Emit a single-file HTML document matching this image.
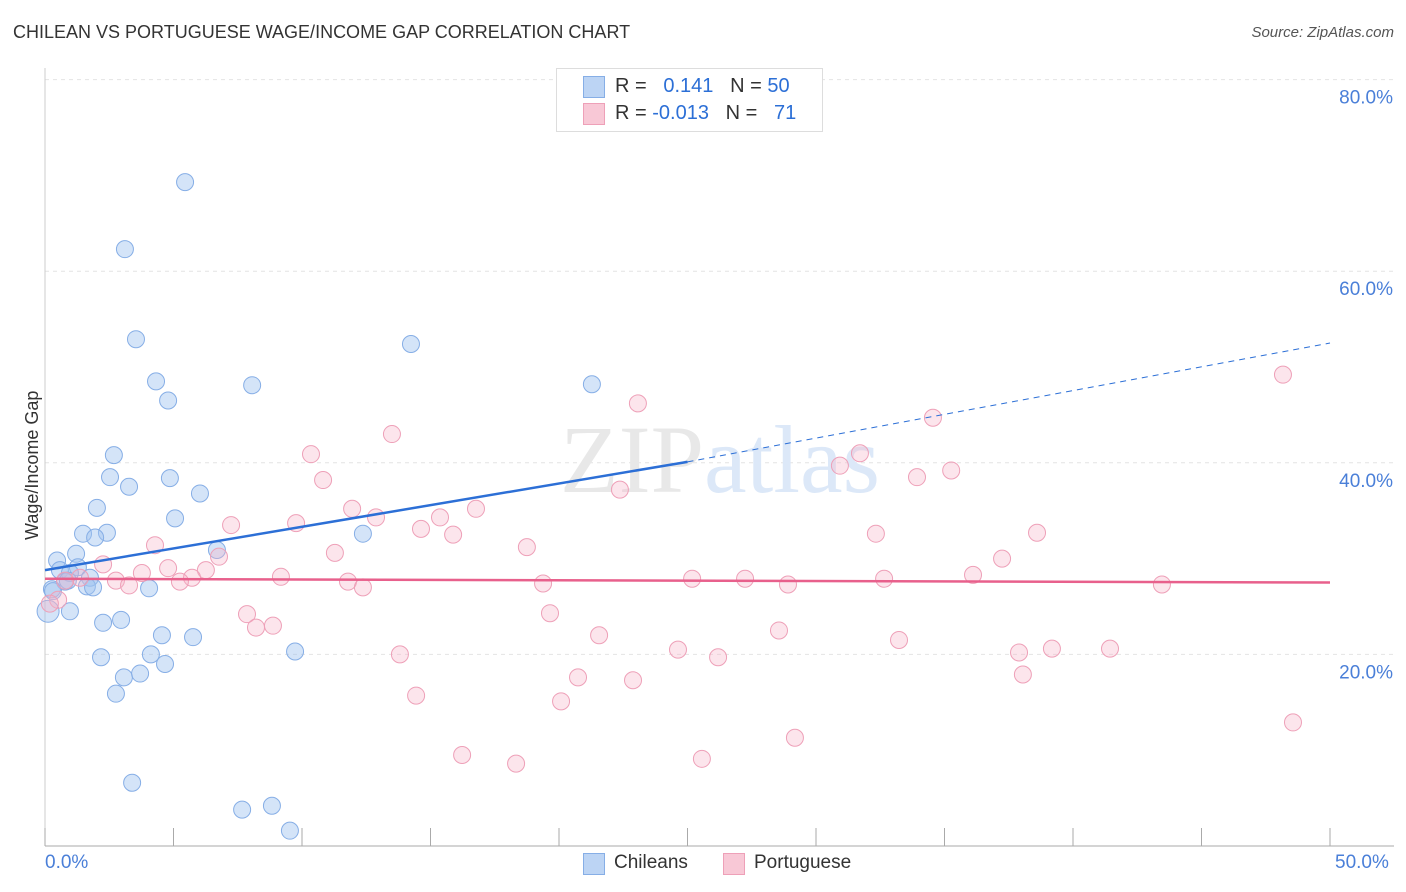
<!DOCTYPE html>
<html><head><meta charset="utf-8"><style>
body{margin:0;background:#fff;font-family:"Liberation Sans",sans-serif;}
#wrap{position:relative;width:1406px;height:892px;overflow:hidden}
.t{position:absolute;white-space:nowrap}
</style></head><body><div id="wrap">
<div class="t" style="left:13px;top:22px;font-size:18px;color:#333">CHILEAN VS PORTUGUESE WAGE/INCOME GAP CORRELATION CHART</div>
<div class="t" style="right:12px;top:24px;font-size:15px;color:#555;font-style:italic">Source: ZipAtlas.com</div>
<svg id="svg" width="1406" height="892" style="position:absolute;left:0;top:0"></svg>
</div>
<script>
const xTicks=[0,5,10,15,20,25,30,35,40,45,50];
const yTicks=[20,40,60,80];
const chileX=[5.45,3.11,3.54,4.32,4.79,8.06,14.24,21.28,2.68,2.53,3.27,4.86,6.03,2.02,5.06,1.48,2.41,1.95,1.21,0.47,6.69,12.37,0.58,1.28,0.97,1.75,0.78,1.63,1.87,0.27,4.05,0.97,2.26,2.96,4.55,5.76,4.12,2.18,4.67,9.73,3.07,3.70,2.76,3.39,7.67,8.83,9.53,0.12,0.31,0.89];
const chileY=[69.3,62.3,52.9,48.5,46.5,48.1,52.4,48.2,40.8,38.5,37.5,38.4,36.8,35.3,34.2,32.6,32.7,32.2,30.5,29.8,30.9,32.6,28.8,29.1,28.5,28.0,27.6,27.1,27.0,26.8,26.9,24.5,23.3,23.6,22.0,21.8,20.0,19.7,19.0,20.3,17.6,18.0,15.9,6.6,3.8,4.2,1.6,24.5,26.6,27.7];
const portX=[48.17,23.07,34.55,13.5,10.35,31.71,30.93,35.26,33.93,10.82,22.37,16.77,11.95,12.88,15.37,14.63,15.88,7.24,9.77,32.33,38.6,4.28,11.28,18.75,37.24,6.77,2.26,4.79,6.26,3.77,9.18,5.72,5.25,2.76,3.27,11.79,12.37,19.38,25.18,27.24,28.91,32.65,36.11,43.46,1.36,0.78,19.65,7.86,8.21,8.87,21.56,28.56,33.23,13.81,24.63,26.19,37.9,39.18,41.44,20.74,22.88,38.05,14.44,20.08,48.56,29.18,16.23,18.33,25.56,0.51,0.19];
const portY=[49.2,46.2,44.7,43.0,40.9,41.0,39.7,39.2,38.5,38.2,37.2,35.2,35.2,34.3,34.3,33.1,32.5,33.5,33.7,32.6,32.7,31.4,30.6,31.2,30.0,30.2,29.4,29.0,28.8,28.5,28.1,28.0,27.6,27.7,27.2,27.6,27.0,27.4,27.9,27.9,27.3,27.9,28.3,27.3,28.0,27.7,24.3,24.2,22.8,23.0,22.0,22.5,21.5,20.0,20.5,19.7,20.2,20.6,20.6,17.6,17.3,17.9,15.7,15.1,12.9,11.3,9.5,8.6,9.1,25.7,25.3];
const X=v=>45+v*25.7, Y=v=>846-v*9.58;
const svg=document.getElementById('svg'),NS='http://www.w3.org/2000/svg';
function mk(t,a,p){const e=document.createElementNS(NS,t);for(const k in a)e.setAttribute(k,a[k]);(p||svg).appendChild(e);return e;}
yTicks.forEach(v=>{const g=mk('line',{x1:45,x2:1394,y1:Y(v),y2:Y(v),stroke:'#e4e4e4','stroke-dasharray':'4,4'});


const t=mk('text',{x:1393,y:Y(v)+24,'text-anchor':'end','font-size':19,fill:'#4a7fd8','font-family':'Liberation Sans'});t.textContent=v.toFixed(1)+'%';

});
const ax=mk('line',{x1:45,x2:1394,y1:846,y2:846,stroke:'#aaa'});


const ay=mk('line',{x1:45,x2:45,y1:68,y2:846,stroke:'#ccc'});


xTicks.forEach(v=>{const l=mk('line',{x1:X(v),x2:X(v),y1:828,y2:846,stroke:'#aaa'});

});
const wm=mk('text',{x:720,y:492,'text-anchor':'middle','font-size':96,'font-family':'Liberation Serif'});
wm.innerHTML='<tspan fill="#e8e8e8">ZIP</tspan><tspan fill="#dce8f8">atlas</tspan>';


chileX.forEach((x,i)=>{const c=mk('circle',{cx:X(x),cy:Y(chileY[i]),r:i==47?11:8.5,fill:'rgba(160,196,240,0.45)',stroke:'#86aee6','stroke-width':1});

});
portX.forEach((x,i)=>{const c=mk('circle',{cx:X(x),cy:Y(portY[i]),r:8.5,fill:'rgba(245,180,200,0.35)',stroke:'#eea0b8','stroke-width':1});

});
const b1=mk('line',{x1:X(0),y1:Y(28.8),x2:X(25),y2:Y(40.1),stroke:'#2c6fd6','stroke-width':2.5});


const b2=mk('line',{x1:X(25),y1:Y(40.1),x2:X(50),y2:Y(52.5),stroke:'#2c6fd6','stroke-width':1,'stroke-dasharray':'6,5'});


const p1=mk('line',{x1:X(0),y1:Y(27.9),x2:X(50),y2:Y(27.5),stroke:'#e8608c','stroke-width':2.5});


</script>
<div class="t" style="left:22px;top:540px;transform:rotate(-90deg);transform-origin:left top;font-size:18px;color:#333">Wage/Income Gap</div>
<div class="t" style="left:45px;top:852px;font-size:19px;color:#4a7fd8">0.0%</div>
<div class="t" style="left:1335px;top:852px;font-size:19px;color:#4a7fd8">50.0%</div>
<div style="position:absolute;left:556px;top:68px;width:265px;height:62px;border:1px solid #ddd;background:#fff;font-size:20px">
<div class="t" style="left:26px;top:7px;width:20px;height:20px;background:#bcd4f4;border:1px solid #86aee6"></div>
<div class="t" style="left:58px;top:6px;color:#333">R = <span style="color:#2c6fd6">&nbsp;&nbsp;0.141</span>&nbsp;&nbsp;&nbsp;N = <span style="color:#2c6fd6">50</span></div>
<div class="t" style="left:26px;top:34px;width:20px;height:20px;background:#f8c8d6;border:1px solid #eea0b8"></div>
<div class="t" style="left:58px;top:33px;color:#333">R = <span style="color:#2c6fd6">-0.013</span>&nbsp;&nbsp;&nbsp;N = <span style="color:#2c6fd6">&nbsp;&nbsp;71</span></div>
</div>
<div class="t" style="left:583px;top:853px;width:20px;height:20px;background:#bcd4f4;border:1px solid #86aee6"></div>
<div class="t" style="left:614px;top:852px;font-size:19px;color:#333">Chileans</div>
<div class="t" style="left:723px;top:853px;width:20px;height:20px;background:#f8c8d6;border:1px solid #eea0b8"></div>
<div class="t" style="left:754px;top:852px;font-size:19px;color:#333">Portuguese</div>
</body></html>
